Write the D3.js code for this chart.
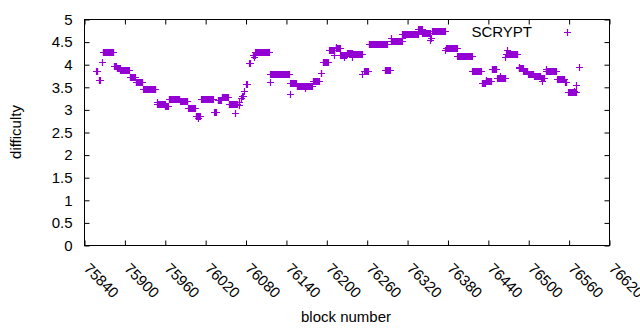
<!DOCTYPE html>
<html><head><meta charset="utf-8">
<script src="https://cdn.jsdelivr.net/npm/d3@7"></script>
<style>
body{margin:0;background:#fff}
text{font-family:"Liberation Sans",Arial,sans-serif;font-size:15px;fill:#000}
</style>
</head><body>
<svg id="c" width="640" height="330"></svg>
<script>
// Runs of constant difficulty (first block, last block, value)
const runStart = [75857,75861,75866,75867,75884,75888,75893,75907,75916,75927,75947,75948,75960,75965,75982,75994,76005,76013,76033,76038,76044,76054,76080,76085,76090,76094,76116,76146,76155,76179,76191,76194,76203,76213,76220,76230,76239,76255,76262,76286,76295,76312,76336,76342,76357,76377,76394,76416,76430,76436,76445,76453,76466,76485,76492,76499,76508,76518,76525,76542,76554,76559];
const runEnd   = [75859,75863,75866,75883,75887,75892,75906,75915,75926,75945,75947,75959,75964,75981,75993,76004,76011,76031,76035,76043,76053,76067,76081,76086,76093,76114,76144,76154,76178,76188,76192,76202,76211,76219,76229,76238,76252,76261,76289,76294,76311,76335,76341,76353,76375,76393,76415,76429,76435,76444,76452,76465,76483,76491,76498,76507,76517,76523,76540,76553,76556,76570];
const runValue = [3.87,3.66,4.05,4.27,3.97,3.93,3.88,3.72,3.61,3.46,3.17,3.13,3.08,3.24,3.19,3.04,2.87,3.24,2.95,3.22,3.28,3.12,3.57,4.03,4.22,4.27,3.79,3.59,3.52,3.64,3.81,4.05,4.32,4.36,4.21,4.25,4.23,3.86,4.45,3.88,4.52,4.67,4.79,4.71,4.74,4.36,4.20,3.86,3.60,3.64,3.91,3.70,4.23,3.93,3.85,3.79,3.76,3.70,3.86,3.68,3.61,3.39];
// Isolated blocks
const pointBlock = [76009,76063,76069,76070,76072,76074,76076,76077,76092,76115,76145,76167,76210,76214,76225,76238,76253,76296,76311,76354,76355,76376,76436,76457,76465,76467,76485,76519,76526,76567,76570,76575];
const pointValue = [2.83,2.93,3.11,3.17,3.26,3.30,3.30,3.41,4.18,3.61,3.35,3.48,4.22,4.40,4.17,4.17,3.79,4.58,4.60,4.55,4.58,4.33,3.67,3.74,4.17,4.33,3.96,3.64,3.90,3.42,3.55,3.94];

const xTickValues = [75840,75900,75960,76020,76080,76140,76200,76260,76320,76380,76440,76500,76560,76620];
const xTickLabels = ["75840","75900","75960","76020","76080","76140","76200","76260","76320","76380","76440","76500","76560","76620"];
const yTickValues = [0,0.5,1,1.5,2,2.5,3,3.5,4,4.5,5];
const yTickLabels = ["0","0.5","1","1.5","2","2.5","3","3.5","4","4.5","5"];
const seriesName = "SCRYPT";
const xTitle = "block number";
const yTitle = "difficulty";
const color = "#9400d3";

const L = 84.5, R = 609.5, T = 19.5, B = 245.5;
const svg = d3.select("#c");
const x = d3.scaleLinear().domain([75840, 76620]).range([L, R]);
const y = d3.scaleLinear().domain([0, 5]).range([B, T]);

// build point table
const pts = [];
runStart.forEach((s, i) => {
  for (let b = s; b <= runEnd[i]; b++) pts.push([b, runValue[i]]);
});
pointBlock.forEach((b, i) => pts.push([b, pointValue[i]]));

const tick = 5;
const gL = svg.append("g").attr("transform", `translate(${L},0)`)
  .call(d3.axisLeft(y).tickValues(yTickValues).tickFormat((d, i) => yTickLabels[i]).tickSize(-tick).tickPadding(12));
const gR = svg.append("g").attr("transform", `translate(${R},0)`)
  .call(d3.axisRight(y).tickValues(yTickValues).tickFormat("").tickSize(-tick));
const gT = svg.append("g").attr("transform", `translate(0,${T})`)
  .call(d3.axisTop(x).tickValues(xTickValues).tickFormat("").tickSize(-tick));
const gB = svg.append("g").attr("transform", `translate(0,${B})`)
  .call(d3.axisBottom(x).tickValues(xTickValues).tickFormat((d, i) => xTickLabels[i]).tickSize(-tick));
[gL, gR, gT, gB].forEach(g => {
  g.select(".domain").remove();
  g.selectAll("line").attr("stroke", "#000");
  g.selectAll("text").attr("font-family", null).attr("font-size", null);
});
gB.selectAll("text")
  .attr("text-anchor", "start")
  .attr("x", 0).attr("y", 0).attr("dy", 0)
  .attr("transform", "translate(-2,24) rotate(45)");

svg.append("rect").attr("x", L).attr("y", T).attr("width", R - L).attr("height", B - T)
  .attr("fill", "none").attr("stroke", "#000").attr("stroke-width", 1);

const plus = (cx, cy) => `M${cx - 3.5},${cy}H${cx + 3.5}M${cx},${cy - 3.5}V${cy + 3.5}`;
svg.append("g").selectAll("path").data(pts).join("path")
  .attr("d", d => plus(Math.round(x(d[0])) + 0.5, Math.round(y(d[1])) + 0.5))
  .attr("stroke", color).attr("stroke-width", 1.2).attr("fill", "none");

// legend
svg.append("text").attr("x", 532).attr("y", 37).attr("text-anchor", "end").text(seriesName);
svg.append("path").attr("d", plus(567.5, 32.5)).attr("stroke", color).attr("stroke-width", 1.2).attr("fill", "none");

svg.append("text").attr("x", 346).attr("y", 322).attr("text-anchor", "middle").text(xTitle);
svg.append("text").attr("transform", "translate(21,132) rotate(-90)").attr("text-anchor", "middle").text(yTitle);
</script>
</body></html>
